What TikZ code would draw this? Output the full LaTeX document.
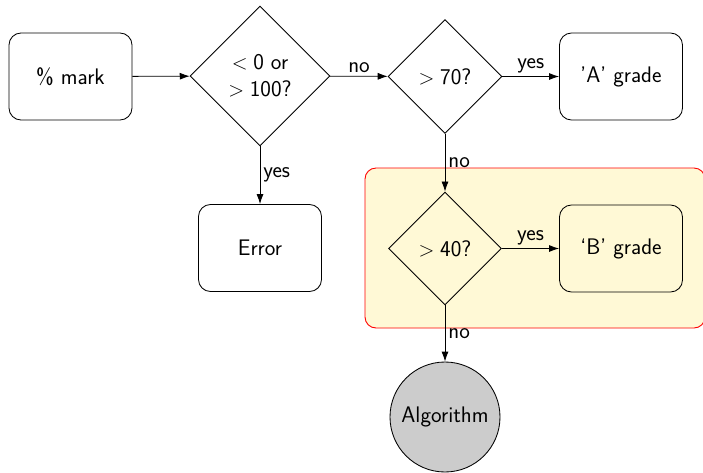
\documentclass[tikz,border=0pt]{standalone}
\usetikzlibrary{shapes.geometric,arrows.meta}
\definecolor{groupfill}{RGB}{255,249,214}
\newcommand{\lessthan}{$<\;$}
\newcommand{\morethan}{$>\;$}
\begin{document}
\begin{tikzpicture}[x=1pt,y=-1pt,
  font=\sffamily\fontsize{22.5}{27}\selectfont,
  line width=0.85pt,
  box/.style={draw, rounded corners=12pt, minimum width=123pt, minimum height=87pt, inner sep=0pt},
  decision/.style={draw, diamond, inner sep=0pt, align=center},
  flow/.style={-{Latex[length=10pt,width=7pt]}},
  lbl/.style={inner sep=3pt}]
  \useasboundingbox (0,0) rectangle (703,472);

  % highlighted group behind the lower decision
  \draw[red, fill=groupfill, rounded corners=11pt, line width=0.9pt]
    (365,168) rectangle (705,328);

  % nodes
  \node[box] (mark) at (70.5,76.5) {\% mark};
  \node[decision, minimum width=140pt, minimum height=140pt] (range) at (260,76)
    {\lessthan 0 or\\\morethan 100?};
  \node[decision, minimum width=114pt, minimum height=114pt] (gtseventy) at (445,76.5) {\morethan 70?};
  \node[box] (agrade) at (621,76.5) {'A' grade};
  \node[box] (error) at (260,248) {Error};
  \node[decision, minimum width=113pt, minimum height=113pt] (gtforty) at (445,248.5) {\morethan 40?};
  \node[box] (bgrade) at (621,248.5) {`B' grade};
  \node[draw, circle, fill=gray!40, minimum size=110pt, inner sep=0pt] (algo) at (445,417) {Algorithm};

  % connectors
  \draw[flow] (mark) -- (range);
  \draw[flow] (range) -- node[lbl, above] {no} (gtseventy);
  \draw[flow] (gtseventy) -- node[lbl, above] {yes} (agrade);
  \draw[flow] (range) -- node[lbl, right] {yes} (error);
  \draw[flow] (gtseventy) -- node[lbl, right] {no} (gtforty);
  \draw[flow] (gtforty) -- node[lbl, above] {yes} (bgrade);
  \draw[flow] (gtforty) -- node[lbl, right] {no} (algo);
\end{tikzpicture}
\end{document}
